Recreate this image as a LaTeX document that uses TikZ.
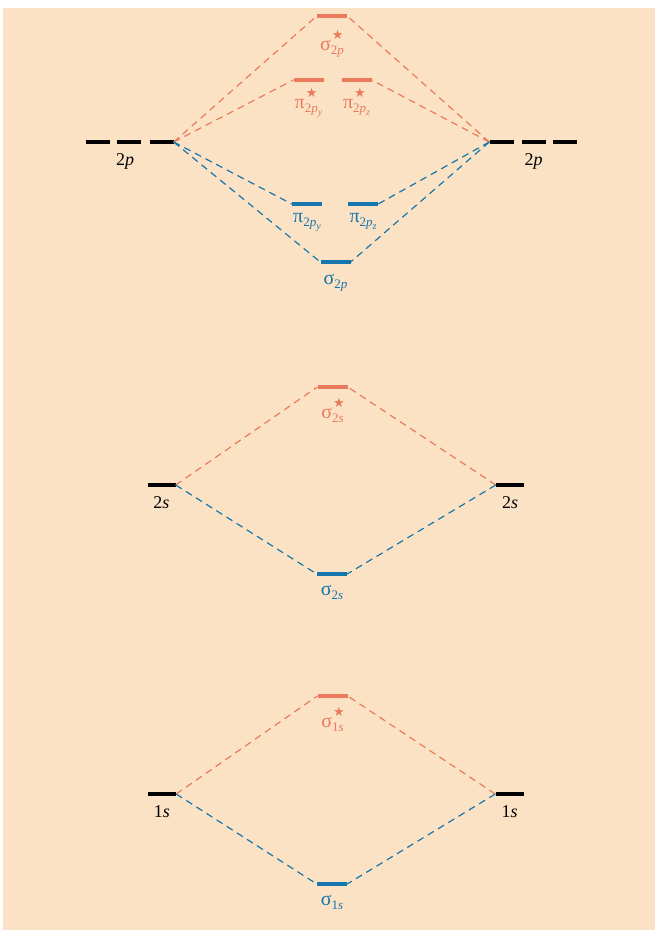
\documentclass[tikz,border=0pt]{standalone}
\usepackage{fontspec}
\setmainfont{Liberation Serif}
\newfontfamily\starfont{DejaVu Sans}
\usetikzlibrary{positioning}
\definecolor{peach}{RGB}{252,226,196}
\definecolor{anti}{RGB}{234,122,92}
\definecolor{bond}{RGB}{20,118,172}
\newcommand{\mostar}{\makebox[0pt][l]{\hspace{1pt}\raisebox{0.55em}{\starfont\fontsize{13}{13}\selectfont ★}}}
\newcommand{\mosub}[1]{\raisebox{-0.2em}{\fontsize{13}{13}\selectfont #1}}
\newcommand{\mosubsub}[1]{\raisebox{-0.25em}{\fontsize{10}{10}\selectfont #1}}

\begin{document}
\begin{tikzpicture}[
  x=1pt, y=-1pt,
  label distance=0pt,
  lev/.style={inner sep=0pt, minimum height=3.6pt, minimum width=30pt, fill=black},
  alev/.style={lev, fill=anti},
  blev/.style={lev, fill=bond},
  plev/.style={lev, minimum width=24pt},
  slev/.style={lev, minimum width=28pt},
  mlab/.style={inner sep=0pt, anchor=base, font=\fontsize{20}{22}\selectfont},
  alab/.style={mlab, text=anti},
  blab/.style={mlab, text=bond},
  klab/.style={inner sep=0pt, anchor=base, text=black, yshift=-21.5pt, font=\fontsize{18}{20}\selectfont},
  link/.style={dash pattern=on 7pt off 5pt, line width=1.2pt},
  alink/.style={link, draw=anti},
  blink/.style={link, draw=bond}
]
\useasboundingbox (0,0) rectangle (655,930);
\fill[peach] (3,8) rectangle (655,930);

% 2p block
\node[plev] (pL1) at (97.5,142) {};
\node[plev, label={[klab, xshift=-4pt]below:2\textit{p}}] (pL2) at (129,142) {};
\node[plev] (pL3) at (161.5,142) {};
\node[plev] (pR1) at (501.5,142) {};
\node[plev, label={[klab]below:2\textit{p}}] (pR2) at (533.5,142) {};
\node[plev] (pR3) at (565,142) {};
\node[alev, label={[alab, yshift=-32.5pt]below:σ\mostar\mosub{2\textit{p}}}] (sg2pa) at (332,16) {};
\node[alev, label={[alab, yshift=-26.5pt]below:π\mostar\mosub{2\textit{p}\mosubsub{\textit{y}}}}] (pi2pya) at (308.5,80) {};
\node[alev, label={[alab, yshift=-26.5pt]below:π\mostar\mosub{2\textit{p}\mosubsub{\textit{z}}}}] (pi2pza) at (356.5,80) {};
\node[blev, label={[blab, yshift=-16.5pt]below:π\mosub{2\textit{p}\mosubsub{\textit{y}}}}] (pi2py) at (307,204) {};
\node[blev, label={[blab, yshift=-16.5pt]below:π\mosub{2\textit{p}\mosubsub{\textit{z}}}}] (pi2pz) at (363,204) {};
\node[blev, label={[blab, yshift=-20.5pt]below:σ\mosub{2\textit{p}}}] (sg2p) at (335.5,262) {};

\draw[alink] (pL3.east) -- (sg2pa.west);
\draw[alink] (pL3.east) -- (pi2pya.west);
\draw[blink] (pL3.east) -- (pi2py.west);
\draw[blink] (pL3.east) -- (sg2p.west);
\draw[alink] (pR1.west) -- (sg2pa.east);
\draw[alink] (pR1.west) -- (pi2pza.east);
\draw[blink] (pR1.west) -- (pi2pz.east);
\draw[blink] (pR1.west) -- (sg2p.east);

% 2s block
\node[slev, label={[klab]below:2\textit{s}}] (sL) at (161.5,485) {};
\node[slev, label={[klab]below:2\textit{s}}] (sR) at (510,485) {};
\node[alev, label={[alab, yshift=-29.5pt]below:σ\mostar\mosub{2\textit{s}}}] (sg2sa) at (332.5,387) {};
\node[blev, label={[blab, yshift=-19.5pt]below:σ\mosub{2\textit{s}}}] (sg2s) at (332,574) {};

\draw[alink] (sL.east) -- (sg2sa.west);
\draw[blink] (sL.east) -- (sg2s.west);
\draw[alink] (sR.west) -- (sg2sa.east);
\draw[blink] (sR.west) -- (sg2s.east);

% 1s block
\node[slev, label={[klab]below:1\textit{s}}] (oL) at (162,794) {};
\node[slev, label={[klab]below:1\textit{s}}] (oR) at (509.5,794) {};
\node[alev, label={[alab, yshift=-29.5pt]below:σ\mostar\mosub{1\textit{s}}}] (sg1sa) at (332.5,696) {};
\node[blev, label={[blab, yshift=-19.5pt]below:σ\mosub{1\textit{s}}}] (sg1s) at (332,884) {};

\draw[alink] (oL.east) -- (sg1sa.west);
\draw[blink] (oL.east) -- (sg1s.west);
\draw[alink] (oR.west) -- (sg1sa.east);
\draw[blink] (oR.west) -- (sg1s.east);
\end{tikzpicture}
\end{document}
